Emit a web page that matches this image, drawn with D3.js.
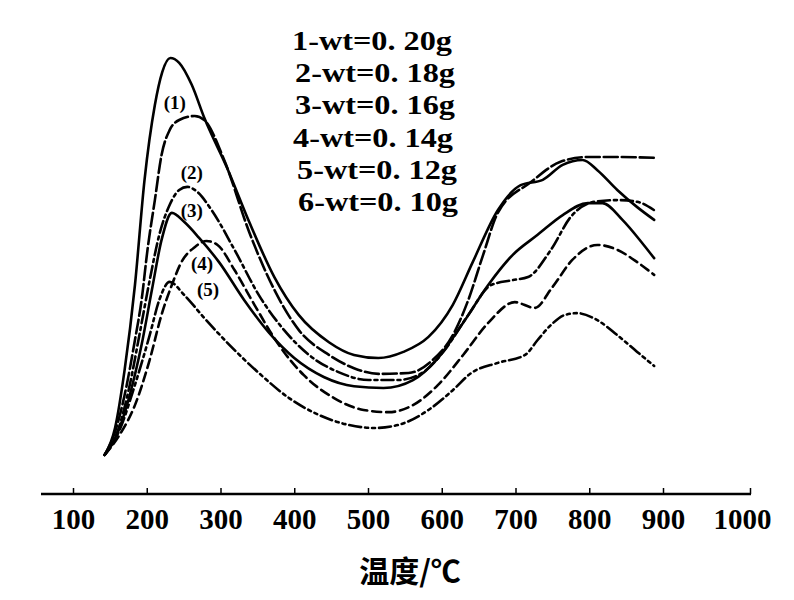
<!DOCTYPE html>
<html>
<head>
<meta charset="utf-8">
<script src="https://cdn.jsdelivr.net/npm/d3@7"></script>
<style>
  body { margin: 0; background: #fff; }
  svg { display: block; }
</style>
</head>
<body>
<div id="chart"></div>
<script>
// legend entries and curve tags
const legendLabels = ["1-wt=0. 20g", "2-wt=0. 18g", "3-wt=0. 16g", "4-wt=0. 14g", "5-wt=0. 12g", "6-wt=0. 10g"];
const curveTags = ["(1)", "(2)", "(3)", "(4)", "(5)"];
const xTicks = [100, 200, 300, 400, 500, 600, 700, 800, 900, 1000];

// curve 1 (0.20g)
const t1 = [143,157,170,184,197,211,221,232,244,261,278,309,339,373,406,447,481,514,548,582,615,642,676,707,737,764,791,811,838,865,888];
const v1 = [8.9,15.0,28.2,47.5,71.4,88.4,95.9,99.1,98.0,93.0,85.5,74.1,61.8,49.3,40.7,34.5,31.6,30.9,32.3,35.7,43.0,52.7,64.5,70.2,71.4,74.8,75.9,73.6,69.1,65.2,62.3];
// curve 2 (0.18g)
const t2 = [143,157,170,184,193,201,211,220,231,244,265,278,305,339,373,406,447,481,514,555,588,615,636,656,676,721,761,798,838,888];
const v2 = [8.9,14.1,22.5,35.0,44.1,55.5,66.8,77.0,82.7,85.0,85.9,85.0,75.9,59.5,46.4,37.3,31.6,28.6,27.3,27.5,30.5,36.1,44.1,54.3,63.9,70.9,75.5,76.6,76.6,76.4];
// curve 3 (0.16g)
const t3 = [143,161,177,190,204,217,231,244,255,269,288,319,352,386,420,460,501,541,575,602,636,667,696,717,748,775,807,838,865,888];
const v3 = [8.9,14.5,24.8,36.1,48.6,58.9,65.7,69.1,69.8,68.6,64.5,55.5,45.2,37.3,31.6,27.7,25.9,25.9,27.7,32.3,40.7,47.5,48.6,49.3,55.5,63.0,66.4,66.8,66.4,64.5];
// curve 4 (0.14g)
const t4 = [143,161,177,193,207,220,234,251,271,298,332,366,400,440,481,521,561,595,629,663,696,730,764,798,818,845,872,888];
const v4 = [8.9,14.1,22.5,33.9,46.4,57.7,63.9,61.8,58.2,52.7,44.1,36.6,30.9,26.6,24.5,24.1,25.9,30.9,38.9,47.5,54.3,58.9,63.4,66.1,66.1,62.3,57.0,53.6];
// curve 5 (0.12g)
const t5 = [143,163,184,204,220,234,247,265,281,296,319,346,379,413,454,494,528,561,595,629,663,699,726,750,777,811,838,865,888];
const v5 = [8.9,13.4,20.2,30.5,40.7,47.5,52.7,56.1,57.5,56.6,50.9,43.0,33.9,27.0,21.8,19.1,18.6,20.2,24.8,31.6,38.9,43.6,42.3,47.0,53.2,56.6,55.5,52.7,49.8];
// curve 6 (0.10g)
const t6 = [143,163,184,204,217,231,251,278,312,352,393,433,474,508,541,582,615,640,676,713,730,748,767,784,811,838,865,888];
const v6 = [8.9,14.5,24.8,36.1,44.1,48.2,45.2,40.0,33.9,27.5,21.8,18.0,15.7,15.0,15.7,19.1,23.6,27.5,29.8,31.6,35.0,38.4,40.7,41.1,39.5,36.1,32.3,29.1];

// where the curve tags sit (temperature, value)
const tagT = [238, 261, 261, 275, 283];
const tagV = [89, 73, 64.5, 52.5, 46.5];

const width = 794, height = 600;
const svg = d3.select("#chart").append("svg")
  .attr("width", width)
  .attr("height", height);

// the printed axis is slightly stretched between 900 and 1000
const x = d3.scaleLinear().domain([100, 900, 1000]).range([73, 663, 750]);
const y = d3.scaleLinear().domain([0, 100]).range([494, 54]);

// x axis, ticks pointing up
const xAxis = svg.append("g")
  .attr("transform", "translate(0,494)")
  .call(d3.axisBottom(x).tickValues(xTicks).tickSizeInner(-6).tickSizeOuter(0).tickFormat(d3.format("d")));
xAxis.select(".domain").remove();
xAxis.append("line")
  .attr("x1", 41).attr("x2", 751)
  .attr("stroke", "#000").attr("stroke-width", 2.5);
xAxis.selectAll(".tick line").attr("stroke-width", 1.5);
xAxis.selectAll(".tick text")
  .attr("y", 35).attr("dy", null)
  .attr("dx", (d) => d === 1000 ? -8 : 0)
  .attr("fill", "#000")
  .style("font-family", "'Liberation Serif', serif")
  .style("font-weight", "bold")
  .style("font-size", "29px");

svg.append("text")
  .attr("x", 410)
  .attr("y", 582)
  .attr("text-anchor", "middle")
  .style("font-family", "'Noto Sans CJK SC', sans-serif")
  .style("font-weight", "bold")
  .style("font-size", "30px")
  .text("温度/℃");

const curves = [[t1, v1], [t2, v2], [t3, v3], [t4, v4], [t5, v5], [t6, v6]];
const dashes = [null, "14,4", "12,4,3,4", null, "9,5", "12,4,3,4,3,4"];

const line = d3.line()
  .x(d => x(d[0]))
  .y(d => y(d[1]))
  .curve(d3.curveMonotoneX);

svg.append("g")
  .selectAll("path")
  .data(curves)
  .join("path")
  .attr("d", d => line(d3.zip(d[0], d[1])))
  .attr("fill", "none")
  .attr("stroke", "#000")
  .attr("stroke-width", 2.6)
  .attr("stroke-linecap", "round")
  .attr("stroke-dasharray", (d, i) => dashes[i]);

// curve tags
svg.append("g")
  .selectAll("text")
  .data(curveTags)
  .join("text")
  .attr("x", (d, i) => x(tagT[i]))
  .attr("y", (d, i) => y(tagV[i]))
  .attr("text-anchor", "middle")
  .attr("dominant-baseline", "central")
  .style("font-family", "'Liberation Serif', serif")
  .style("font-weight", "bold")
  .style("font-size", "19px")
  .text(d => d);

// legend block
svg.append("g")
  .selectAll("text")
  .data(legendLabels)
  .join("text")
  .attr("x", (d, i) => 292 + [0, 3, 3, 1, 5, 6][i])
  .attr("y", (d, i) => 50 + i * 32.2)
  .attr("textLength", 160)
  .attr("lengthAdjust", "spacingAndGlyphs")
  .style("font-family", "'Liberation Serif', serif")
  .style("font-weight", "bold")
  .style("font-size", "27px")
  .text(d => d);
</script>
</body>
</html>
